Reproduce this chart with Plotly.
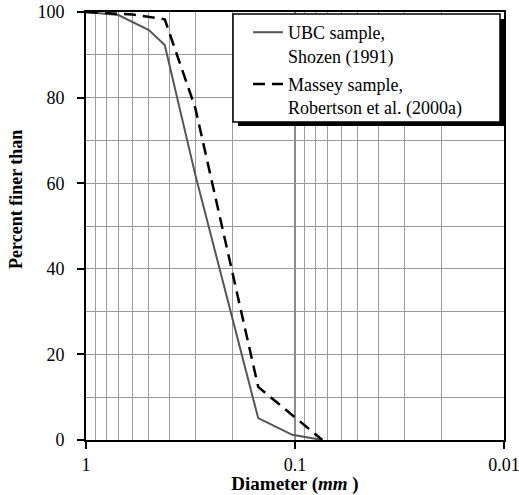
import plotly.graph_objects as go

# Data
ubc_diam = [1.0, 0.7, 0.5, 0.42, 0.3, 0.15, 0.103, 0.074]
ubc_pct = [100, 99.3, 95.8, 92.3, 62.0, 5.1, 1.2, 0.0]
ubc_name = "UBC sample,<br>Shozen (1991)"

massey_diam = [1.0, 0.6, 0.42, 0.3, 0.15, 0.074]
massey_pct = [100, 99.4, 98.3, 77.6, 12.4, 0.0]
massey_name = "Massey sample,<br>Robertson et al. (2000a)"

x_ticks = [1, 0.1, 0.01]
x_ticktext = ["1", "0.1", "0.01"]
x_minor = [0.9, 0.8, 0.7, 0.6, 0.5, 0.4, 0.3, 0.2,
           0.09, 0.08, 0.07, 0.06, 0.05, 0.04, 0.03, 0.02]
y_ticks = [0, 20, 40, 60, 80, 100]
x_title = "<b>Diameter (<i>mm</i> )</b>"
y_title = "<b>Percent finer than</b>"

FONT = "'Liberation Serif', 'Times New Roman', Times, serif"

fig = go.Figure()
fig.add_trace(go.Scatter(x=ubc_diam, y=ubc_pct, mode="lines", name=ubc_name,
                         legendgroup="a",
                         line=dict(color="#555555", width=2)))
fig.add_trace(go.Scatter(x=massey_diam, y=massey_pct, mode="lines", name=massey_name,
                         legendgroup="b",
                         line=dict(color="black", width=2.5, dash="12px,7px")))

L, R, T, B = 86, 15, 12, 55
W, H = 519, 495
PW, PH = W - L - R, H - T - B


def px_x(p):
    return (p - L) / PW


def px_y(p):
    return (H - B - p) / PH


# legend frame with drop shadow (frame 233..500 x 14..122 px)
fig.add_shape(type="rect", xref="paper", yref="paper",
              x0=px_x(238), x1=px_x(504), y0=px_y(126), y1=px_y(19),
              fillcolor="black", line=dict(width=0), layer="above")
fig.add_shape(type="rect", xref="paper", yref="paper",
              x0=px_x(233), x1=px_x(500), y0=px_y(122), y1=px_y(14),
              fillcolor="white", line=dict(color="black", width=1.5), layer="above")

# y-axis title (sits above the plot centre in the reference)
fig.add_annotation(text=y_title, xref="paper", yref="paper",
                   x=px_x(16), y=px_y(200), xanchor="center", yanchor="middle",
                   textangle=-90, showarrow=False,
                   font=dict(family=FONT, size=18, color="black"))

fig.update_layout(
    width=W, height=H,
    margin=dict(l=L, r=R, t=T, b=B),
    paper_bgcolor="white", plot_bgcolor="white",
    font=dict(family=FONT, size=18, color="black"),
    showlegend=True,
    legend=dict(x=px_x(248), y=px_y(14), xanchor="left", yanchor="top",
                bgcolor="rgba(0,0,0,0)", borderwidth=0,
                font=dict(family=FONT, size=18, color="black"),
                tracegroupgap=2, valign="top"),
    xaxis=dict(type="log", range=[0, -2], automargin=False,
               tickmode="array", tickvals=x_ticks, ticktext=x_ticktext,
               tickfont=dict(family=FONT, size=18), ticklabeloverflow="allow",
               ticks="outside", ticklen=7, tickcolor="black", tickwidth=1.5,
               showgrid=True, gridcolor="#8a8a8a", gridwidth=2,
               minor=dict(tickvals=x_minor, showgrid=True, gridcolor="#9a9a9a",
                          gridwidth=1, ticks=""),
               showline=True, linecolor="black", linewidth=2, mirror=True,
               zeroline=False, ticklabelstandoff=0,
               title=dict(text=x_title, standoff=0,
                          font=dict(family=FONT, size=19))),
    yaxis=dict(range=[0, 100], tickmode="array", tickvals=y_ticks, automargin=False,
               tickfont=dict(family=FONT, size=18), ticklabeloverflow="allow",
               ticks="outside", ticklen=7, tickcolor="black", tickwidth=1.5,
               showgrid=True, gridcolor="#9a9a9a", gridwidth=1,
               minor=dict(dtick=10, showgrid=True, gridcolor="#9a9a9a",
                          gridwidth=1, ticks=""),
               showline=True, linecolor="black", linewidth=2, mirror=True,
               zeroline=False, ticklabelstandoff=9),
)

fig.write_html("out.html")
